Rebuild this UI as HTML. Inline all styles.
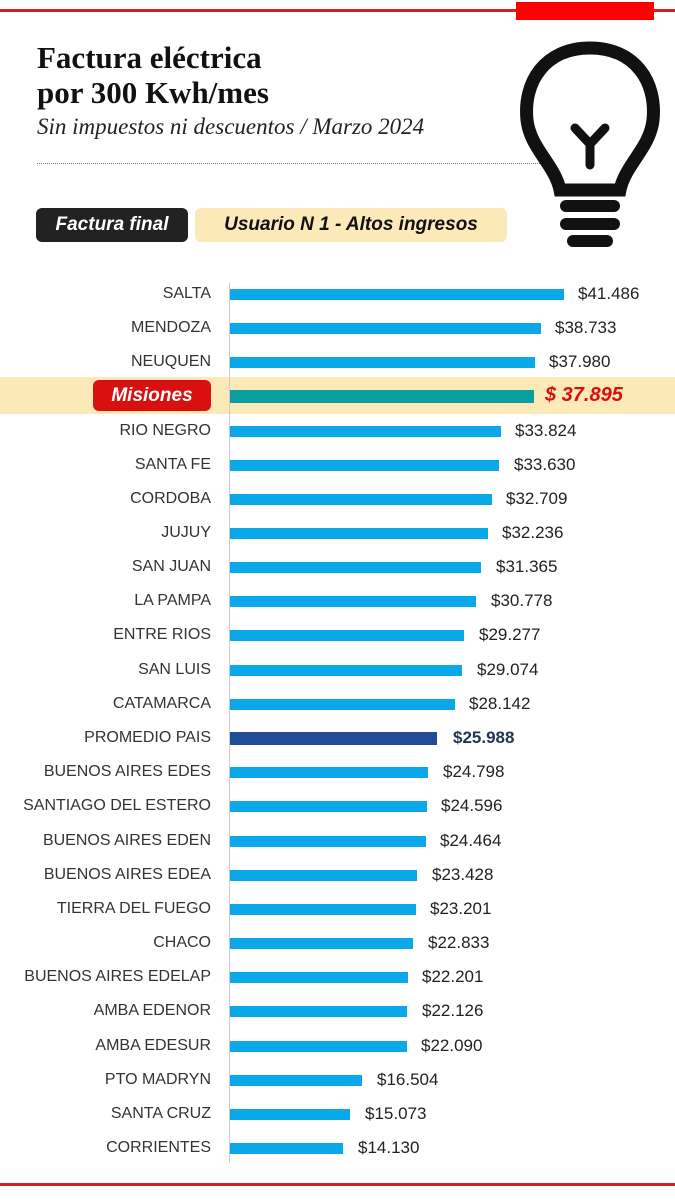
<!DOCTYPE html>
<html><head><meta charset="utf-8"><style>
body{margin:0;width:675px;height:1200px;background:#fff;position:relative;overflow:hidden;font-family:"Liberation Sans",sans-serif}
.a{position:absolute}
.r{position:absolute;left:0;width:675px;height:34px}
.l{position:absolute;right:464px;top:8px;font-size:16px;color:#333;white-space:nowrap;line-height:18px}
.b{position:absolute;left:230px;top:12px;height:11px;background:#0aa8e8}
.v{position:absolute;top:8px;font-size:17px;color:#222;line-height:18px;white-space:nowrap}
</style></head><body>
<div class="a" style="left:0;top:9px;width:675px;height:3px;background:#d42020"></div>
<div class="a" style="left:516px;top:2px;width:138px;height:18px;background:#f00"></div>
<div class="a" style="left:0;top:1183px;width:675px;height:3px;background:#d42020"></div>
<div class="a" style="left:37px;top:40px;font-family:'Liberation Serif',serif;font-weight:bold;font-size:31px;line-height:35px;color:#111">Factura eléctrica<br>por 300 Kwh/mes</div>
<div class="a" style="left:37px;top:114px;font-family:'Liberation Serif',serif;font-style:italic;font-size:23px;color:#222">Sin impuestos ni descuentos / Marzo 2024</div>
<div class="a" style="left:37px;top:163px;width:505px;border-top:1px dotted #777"></div>
<div class="a" style="left:36px;top:208px;width:152px;height:34px;background:#222;border-radius:6px;color:#fff;font-weight:bold;font-style:italic;font-size:19px;line-height:34px;text-align:center">Factura final</div>
<div class="a" style="left:195px;top:208px;width:312px;height:34px;background:#fbe9b8;border-radius:6px;color:#111;font-weight:bold;font-style:italic;font-size:19px;line-height:34px;text-align:center">Usuario N 1 - Altos ingresos</div>
<svg class="a" style="left:515px;top:40px" width="150" height="210" viewBox="0 0 150 210">
<path d="M75 8 C30 8 8 42 12 80 C15 108 40 125 45 150 L105 150 C110 125 135 108 138 80 C142 42 120 8 75 8Z" fill="none" stroke="#111" stroke-width="13"/>
<path d="M60 88 L75 104 L90 88 M75 104 L75 125" fill="none" stroke="#111" stroke-width="9" stroke-linecap="round"/>
<rect x="45" y="160" width="60" height="12" rx="6" fill="#111"/>
<rect x="45" y="178" width="60" height="12" rx="6" fill="#111"/>
<rect x="52" y="195" width="46" height="12" rx="6" fill="#111"/>
</svg>
<div class="a" style="left:0;top:377px;width:675px;height:37px;background:#fbe9b8"></div>
<div class="a" style="left:229px;top:283px;width:1px;height:880px;background:#ccc"></div>

<div class="r" style="top:277px"><span class="l">SALTA</span><div class="b" style="width:334px"></div><span class="v" style="left:578px">$41.486</span></div>
<div class="r" style="top:311px"><span class="l">MENDOZA</span><div class="b" style="width:311px"></div><span class="v" style="left:555px">$38.733</span></div>
<div class="r" style="top:345px"><span class="l">NEUQUEN</span><div class="b" style="width:305px"></div><span class="v" style="left:549px">$37.980</span></div>
<div class="r" style="top:379px">
<div class="a" style="left:93px;top:1px;width:118px;height:31px;background:#d81010;border-radius:6px;color:#fff;font-weight:bold;font-style:italic;font-size:19px;line-height:31px;text-align:center">Misiones</div>
<div class="b" style="width:304px;top:11px;height:13px;background:#0b9e9e"></div><span class="v" style="left:545px;top:7px;color:#d81010;font-weight:bold;font-style:italic;font-size:20px">$ 37.895</span></div>
<div class="r" style="top:414px"><span class="l">RIO NEGRO</span><div class="b" style="width:271px"></div><span class="v" style="left:515px">$33.824</span></div>
<div class="r" style="top:448px"><span class="l">SANTA FE</span><div class="b" style="width:269px"></div><span class="v" style="left:514px">$33.630</span></div>
<div class="r" style="top:482px"><span class="l">CORDOBA</span><div class="b" style="width:262px"></div><span class="v" style="left:506px">$32.709</span></div>
<div class="r" style="top:516px"><span class="l">JUJUY</span><div class="b" style="width:258px"></div><span class="v" style="left:502px">$32.236</span></div>
<div class="r" style="top:550px"><span class="l">SAN JUAN</span><div class="b" style="width:251px"></div><span class="v" style="left:496px">$31.365</span></div>
<div class="r" style="top:584px"><span class="l">LA PAMPA</span><div class="b" style="width:246px"></div><span class="v" style="left:491px">$30.778</span></div>
<div class="r" style="top:618px"><span class="l">ENTRE RIOS</span><div class="b" style="width:234px"></div><span class="v" style="left:479px">$29.277</span></div>
<div class="r" style="top:653px"><span class="l">SAN LUIS</span><div class="b" style="width:232px"></div><span class="v" style="left:477px">$29.074</span></div>
<div class="r" style="top:687px"><span class="l">CATAMARCA</span><div class="b" style="width:225px"></div><span class="v" style="left:469px">$28.142</span></div>
<div class="r" style="top:721px"><span class="l">PROMEDIO PAIS</span><div class="b" style="width:207px;background:#1f4e96;height:13px;top:11px"></div><span class="v" style="left:453px;font-weight:bold;color:#1f3550">$25.988</span></div>
<div class="r" style="top:755px"><span class="l">BUENOS AIRES EDES</span><div class="b" style="width:198px"></div><span class="v" style="left:443px">$24.798</span></div>
<div class="r" style="top:789px"><span class="l">SANTIAGO DEL ESTERO</span><div class="b" style="width:197px"></div><span class="v" style="left:441px">$24.596</span></div>
<div class="r" style="top:824px"><span class="l">BUENOS AIRES EDEN</span><div class="b" style="width:196px"></div><span class="v" style="left:440px">$24.464</span></div>
<div class="r" style="top:858px"><span class="l">BUENOS AIRES EDEA</span><div class="b" style="width:187px"></div><span class="v" style="left:432px">$23.428</span></div>
<div class="r" style="top:892px"><span class="l">TIERRA DEL FUEGO</span><div class="b" style="width:186px"></div><span class="v" style="left:430px">$23.201</span></div>
<div class="r" style="top:926px"><span class="l">CHACO</span><div class="b" style="width:183px"></div><span class="v" style="left:428px">$22.833</span></div>
<div class="r" style="top:960px"><span class="l">BUENOS AIRES EDELAP</span><div class="b" style="width:178px"></div><span class="v" style="left:422px">$22.201</span></div>
<div class="r" style="top:994px"><span class="l">AMBA EDENOR</span><div class="b" style="width:177px"></div><span class="v" style="left:422px">$22.126</span></div>
<div class="r" style="top:1029px"><span class="l">AMBA EDESUR</span><div class="b" style="width:177px"></div><span class="v" style="left:421px">$22.090</span></div>
<div class="r" style="top:1063px"><span class="l">PTO MADRYN</span><div class="b" style="width:132px"></div><span class="v" style="left:377px">$16.504</span></div>
<div class="r" style="top:1097px"><span class="l">SANTA CRUZ</span><div class="b" style="width:120px"></div><span class="v" style="left:365px">$15.073</span></div>
<div class="r" style="top:1131px"><span class="l">CORRIENTES</span><div class="b" style="width:113px"></div><span class="v" style="left:358px">$14.130</span></div>
</body></html>
